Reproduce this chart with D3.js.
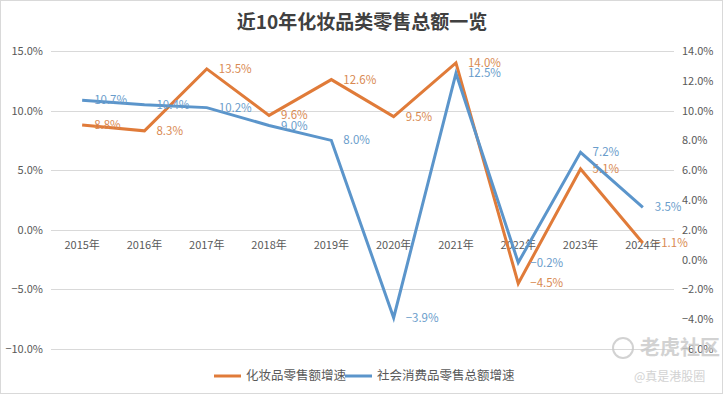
<!DOCTYPE html>
<html>
  <head>
    <meta charset="utf-8">
    <script src="https://d3js.org/d3.v7.min.js"></script>
    <style>
      body {margin: 0; background: #fff;}
      svg text {font-family: "Noto Sans CJK SC", "Noto Sans", sans-serif;}
      #grid line {stroke: #d9d9d9; stroke-width: 1;}
      .series {fill: none; stroke-width: 3px; stroke-linejoin: miter;}
    </style>
  </head>
  <body>
    <svg id="chart" width="723" height="394"></svg>
  </body>
  <script>
      let years = ["2015年", "2016年", "2017年", "2018年", "2019年", "2020年", "2021年", "2022年", "2023年", "2024年"];
      // left axis series
      let cosmetics = [8.8, 8.3, 13.5, 9.6, 12.6, 9.5, 14.0, -4.5, 5.1, -1.1];
      // right axis series
      let retail = [10.7, 10.4, 10.2, 9.0, 8.0, -3.9, 12.5, -0.2, 7.2, 3.5];
      let leftTicks = [-10, -5, 0, 5, 10, 15];
      let rightTicks = [-6, -4, -2, 0, 2, 4, 6, 8, 10, 12, 14];
      let seriesNames = ["化妆品零售额增速", "社会消费品零售总额增速"];

      let width = 723, height = 394;
      let plot = {left: 51, right: 674, top: 51, bottom: 349};
      let orange = "#E07B39", blue = "#5B95CB", textColor = "#595959";
      let orangeLabel = "#D98A52", blueLabel = "#6A9DCB";

      let svg = d3.select("#chart");

      svg.append("rect").attr("x", 0.5).attr("y", 0.5).attr("width", width - 1).attr("height", height - 1)
          .attr("fill", "#fff").attr("stroke", "#d9d9d9");

      let x = d3.scalePoint().domain(years).range([plot.left, plot.right]).padding(0.5);
      let yL = d3.scaleLinear().domain([-10, 15]).range([plot.bottom, plot.top]);
      let yR = d3.scaleLinear().domain([-6, 14]).range([plot.bottom, plot.top]);

      // title
      svg.append("text").attr("x", 362).attr("y", 29).attr("text-anchor", "middle")
          .attr("font-size", 19).attr("font-weight", "bold").attr("fill", "#404040")
          .text("近10年化妆品类零售总额一览");

      // gridlines
      svg.append("g").attr("id", "grid").selectAll("line").data(leftTicks).enter().append("line")
          .attr("x1", plot.left).attr("x2", plot.right)
          .attr("y1", d => Math.round(yL(d)) + 0.5).attr("y2", d => Math.round(yL(d)) + 0.5);

      // axes (no domain lines, no tick marks)
      let leftAxis = d3.axisLeft(yL).tickValues(leftTicks).tickSize(0).tickPadding(8)
          .tickFormat(d => d3.format(".1f")(d) + "%");
      let rightAxis = d3.axisRight(yR).tickValues(rightTicks).tickSize(0).tickPadding(8)
          .tickFormat(d => d3.format(".1f")(d) + "%");

      let gl = svg.append("g").attr("transform", `translate(${plot.left},0)`).call(leftAxis);
      let gr = svg.append("g").attr("transform", `translate(${plot.right},0)`).call(rightAxis);
      [gl, gr].forEach(g => {
          g.select(".domain").remove();
          g.selectAll("text").attr("font-size", 11).attr("fill", textColor)
              .style("font-family", "'Noto Sans CJK SC', sans-serif");
      });

      // category labels sit under the left-axis zero line
      svg.append("g").selectAll("text").data(years).enter().append("text")
          .attr("x", d => x(d)).attr("y", yL(0) + 19).attr("text-anchor", "middle")
          .attr("font-size", 11).attr("fill", textColor).text(d => d);

      function drawSeries(values, scale, color, labelColor) {
          let pts = values.map((v, i) => ({year: years[i], v: v}));
          let line = d3.line().x(d => x(d.year)).y(d => scale(d.v));
          svg.append("path").datum(pts).attr("class", "series").attr("stroke", color).attr("d", line);
          svg.append("g").selectAll("text").data(pts).enter().append("text")
              .attr("x", d => x(d.year) + 12).attr("y", d => scale(d.v)).attr("dy", "0.35em")
              .attr("font-size", 11.5).attr("fill", labelColor).text(d => d3.format(".1f")(d.v) + "%");
      }
      drawSeries(cosmetics, yL, orange, orangeLabel);
      drawSeries(retail, yR, blue, blueLabel);

      // legend
      let legend = svg.append("g");
      let legendItems = [
          {name: seriesNames[0], color: orange, x: 214},
          {name: seriesNames[1], color: blue, x: 345}
      ];
      legendItems.forEach(item => {
          legend.append("line").attr("x1", item.x).attr("x2", item.x + 27)
              .attr("y1", 376).attr("y2", 376).attr("stroke", item.color).attr("stroke-width", 3);
          legend.append("text").attr("x", item.x + 32).attr("y", 376).attr("dy", "0.35em")
              .attr("font-size", 12.5).attr("fill", textColor).text(item.name);
      });

      // watermark
      let wm = svg.append("g").attr("fill", "#c8c8c8").attr("opacity", 0.8);
      wm.append("circle").attr("cx", 623).attr("cy", 348).attr("r", 10)
          .attr("fill", "none").attr("stroke", "#c8c8c8").attr("stroke-width", 2);
      wm.append("text").attr("x", 640).attr("y", 355).attr("font-size", 20).attr("font-weight", "bold").text("老虎社区");
      wm.append("text").attr("x", 634).attr("y", 381).attr("font-size", 12).text("@真是港股圈");
  </script>
</html>
